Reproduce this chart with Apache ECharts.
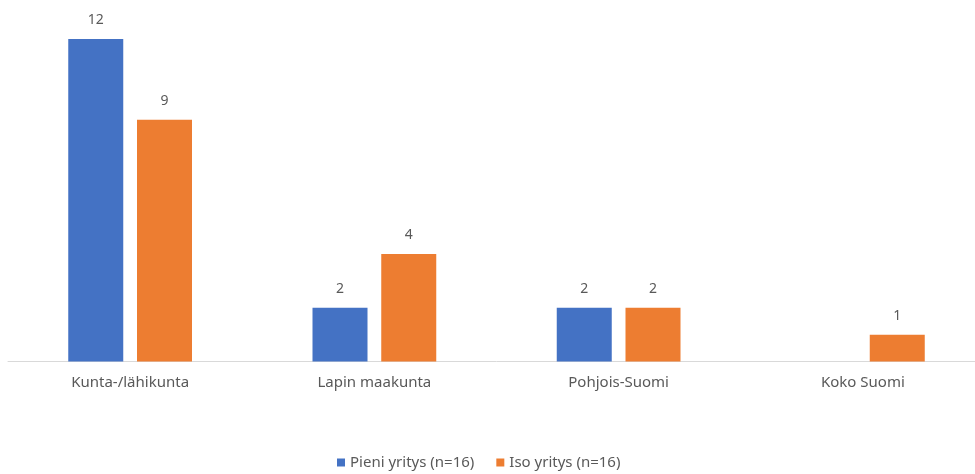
<!DOCTYPE html>
<html><head><meta charset="utf-8">
<script src="https://cdn.jsdelivr.net/npm/echarts@6/dist/echarts.min.js"></script>
<style>html,body{margin:0;padding:0;background:#fff;overflow:hidden}#c{width:990px;height:474px}</style>
</head><body><div id="c"></div>
<script>
var categories = ['Kunta-/lähikunta', 'Lapin maakunta', 'Pohjois-Suomi', 'Koko Suomi'];
var pieni = [12, 2, 2, null];
var iso = [9, 4, 2, 1];
var seriesNames = ['Pieni yritys (n=16)', 'Iso yritys (n=16)'];

var chart = echarts.init(document.getElementById('c'));
var font = '"Noto Sans", sans-serif';
var lbl = {show: true, position: 'top', distance: 12, color: '#595959', fontSize: 14, fontFamily: font};
chart.setOption({
  animation: false,
  grid: {left: 8, right: 5, top: 39, bottom: 112.5, containLabel: false},
  legend: {
    bottom: -1, left: 332, itemWidth: 8, itemHeight: 8, itemGap: 22, itemTextGap: 4, icon: 'rect',
    textStyle: {color: '#595959', fontSize: 15, fontFamily: font},
    data: seriesNames
  },
  xAxis: {
    type: 'category', data: categories,
    axisLine: {lineStyle: {color: '#D9D9D9', width: 1}},
    axisTick: {show: false},
    axisLabel: {color: '#595959', fontSize: 15, fontFamily: font, margin: 14}
  },
  yAxis: {type: 'value', min: 0, max: 12, show: false, splitLine: {show: false}},
  series: [
    {name: seriesNames[0], type: 'bar', data: pieni, barWidth: 55, barGap: '25%',
     itemStyle: {color: '#4472C4'}, label: lbl},
    {name: seriesNames[1], type: 'bar', data: iso, barWidth: 55, barGap: '25%',
     itemStyle: {color: '#ED7D31'}, label: lbl}
  ]
});
</script></body></html>
